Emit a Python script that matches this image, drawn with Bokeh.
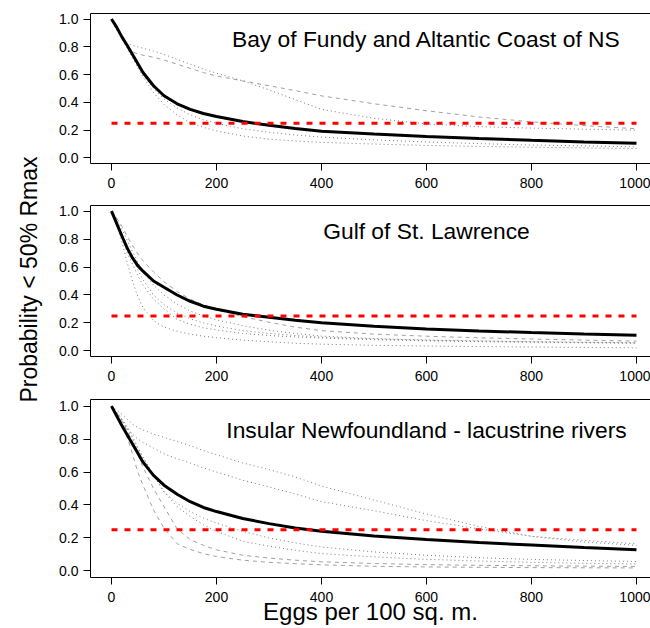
import math
from bokeh.plotting import figure
from bokeh.models import Range1d, FixedTicker, PrintfTickFormatter, LinearAxis
from bokeh.layouts import row, column
from bokeh.embed import file_html
from bokeh.resources import INLINE
from bokeh.core.properties import value

# ---------------- data ----------------
eggs = [0, 10, 20, 30, 40, 50, 60, 80, 100, 125, 150, 175, 200, 250, 300, 350, 400,
        500, 600, 700, 800, 900, 1000]
x_ticks = [0, 200, 400, 600, 800, 1000]
y_ticks = [0.0, 0.2, 0.4, 0.6, 0.8, 1.0]
threshold = 0.25

region_names = ["Bay of Fundy and Altantic Coast of NS",
                "Gulf of St. Lawrence",
                "Insular Newfoundland - lacustrine rivers"]

# Bay of Fundy and Atlantic Coast of NS
bof_overall = [1.00, 0.94, 0.87, 0.81, 0.745, 0.68, 0.615, 0.52, 0.448, 0.39, 0.35, 0.32, 0.298,
               0.262, 0.235, 0.212, 0.193, 0.172, 0.155, 0.14, 0.127, 0.115, 0.105]
bof_dashed = [
    [1.00, 0.93, 0.86, 0.80, 0.765, 0.748, 0.74, 0.725, 0.705, 0.675, 0.645, 0.615, 0.59,
     0.555, 0.52, 0.485, 0.447, 0.39, 0.34, 0.295, 0.26, 0.233, 0.21],
]
bof_dotted = [
    [1.00, 0.92, 0.86, 0.825, 0.81, 0.80, 0.79, 0.77, 0.745, 0.71, 0.675, 0.64, 0.61,
     0.555, 0.49, 0.42, 0.35, 0.285, 0.245, 0.225, 0.215, 0.207, 0.20],
    [1.00, 0.93, 0.86, 0.79, 0.72, 0.65, 0.585, 0.47, 0.385, 0.31, 0.255, 0.22, 0.195,
     0.158, 0.135, 0.122, 0.112, 0.10, 0.09, 0.083, 0.077, 0.072, 0.068],
    [1.00, 0.935, 0.865, 0.80, 0.73, 0.665, 0.60, 0.50, 0.425, 0.36, 0.31, 0.275, 0.25,
     0.21, 0.185, 0.165, 0.15, 0.13, 0.115, 0.103, 0.093, 0.087, 0.08],
]

# Gulf of St. Lawrence
gsl_overall = [1.00, 0.91, 0.82, 0.735, 0.665, 0.61, 0.57, 0.50, 0.455, 0.40, 0.355, 0.32, 0.298,
               0.262, 0.24, 0.22, 0.202, 0.176, 0.157, 0.143, 0.131, 0.121, 0.112]
gsl_dashed = [
    [1.00, 0.95, 0.89, 0.82, 0.755, 0.695, 0.645, 0.565, 0.495, 0.425, 0.37, 0.33, 0.298,
     0.245, 0.205, 0.17, 0.145, 0.12, 0.105, 0.094, 0.085, 0.077, 0.07],
]
gsl_dotted = [
    [1.00, 0.90, 0.78, 0.63, 0.50, 0.39, 0.31, 0.215, 0.17, 0.14, 0.12, 0.105, 0.095,
     0.077, 0.065, 0.055, 0.048, 0.04, 0.035, 0.031, 0.028, 0.025, 0.022],
    [1.00, 0.91, 0.82, 0.70, 0.62, 0.54, 0.47, 0.37, 0.30, 0.225, 0.19, 0.165, 0.15,
     0.125, 0.11, 0.10, 0.092, 0.08, 0.072, 0.066, 0.062, 0.058, 0.055],
    [1.00, 0.94, 0.87, 0.79, 0.71, 0.635, 0.57, 0.47, 0.40, 0.335, 0.285, 0.25, 0.222,
     0.18, 0.148, 0.124, 0.106, 0.088, 0.078, 0.072, 0.066, 0.062, 0.058],
    [1.00, 0.92, 0.84, 0.75, 0.66, 0.58, 0.51, 0.40, 0.33, 0.27, 0.23, 0.20, 0.178,
     0.145, 0.125, 0.11, 0.098, 0.085, 0.076, 0.07, 0.065, 0.06, 0.057],
]

# Insular Newfoundland - lacustrine rivers
nfl_overall = [1.00, 0.94, 0.88, 0.825, 0.77, 0.715, 0.66, 0.58, 0.52, 0.465, 0.42, 0.385, 0.36,
               0.318, 0.287, 0.26, 0.24, 0.212, 0.19, 0.172, 0.157, 0.142, 0.128]
nfl_dashed = [
    [1.00, 0.95, 0.89, 0.81, 0.71, 0.60, 0.52, 0.37, 0.26, 0.165, 0.13, 0.105, 0.087,
     0.065, 0.052, 0.044, 0.037, 0.028, 0.024, 0.022, 0.02, 0.019, 0.018],
    [1.00, 0.96, 0.91, 0.85, 0.78, 0.71, 0.63, 0.50, 0.39, 0.255, 0.19, 0.155, 0.128,
     0.095, 0.078, 0.065, 0.055, 0.045, 0.038, 0.034, 0.031, 0.029, 0.027],
]
nfl_dotted = [
    [1.00, 0.975, 0.95, 0.92, 0.89, 0.87, 0.855, 0.83, 0.81, 0.785, 0.76, 0.73, 0.705,
     0.655, 0.615, 0.57, 0.515, 0.43, 0.345, 0.27, 0.21, 0.175, 0.155],
    [1.00, 0.96, 0.92, 0.87, 0.83, 0.80, 0.78, 0.745, 0.71, 0.68, 0.655, 0.625, 0.60,
     0.55, 0.51, 0.467, 0.42, 0.365, 0.305, 0.255, 0.21, 0.185, 0.164],
    [1.00, 0.96, 0.92, 0.87, 0.815, 0.75, 0.69, 0.58, 0.48, 0.39, 0.33, 0.28, 0.24,
     0.18, 0.15, 0.125, 0.105, 0.085, 0.07, 0.06, 0.052, 0.046, 0.042],
    [1.00, 0.96, 0.91, 0.86, 0.80, 0.74, 0.69, 0.58, 0.48, 0.41, 0.36, 0.32, 0.29,
     0.24, 0.20, 0.17, 0.145, 0.115, 0.095, 0.08, 0.07, 0.063, 0.057],
]

x_title = "Eggs per 100 sq. m."
y_title = "Probability < 50% Rmax"

# ---------------- styling ----------------
FONT = "Liberation Sans"
DOT_COLOR = "#7a7a7a"
DASH_COLOR = "#a0a0a0"
PANEL_W = 602
X_END = 1026.7


def make_panel(height, top, bottom, overall, dashed, dotted, name):
    p = figure(width=PANEL_W, height=height, output_backend="svg", toolbar_location=None,
               x_range=Range1d(-40, X_END), y_range=Range1d(-0.04, 1.04),
               min_border_left=42, min_border_right=0,
               min_border_top=top, min_border_bottom=bottom)
    p.grid.visible = False
    p.outline_line_color = None
    p.background_fill_color = "white"
    p.border_fill_color = "white"

    for ax in (p.xaxis[0], p.yaxis[0]):
        ax.major_tick_out = 7
        ax.major_tick_in = 0
        ax.minor_tick_out = 0
        ax.minor_tick_in = 0
        ax.axis_line_color = "black"
        ax.major_tick_line_color = "black"
        ax.major_label_text_font = FONT
        ax.major_label_text_font_size = "14px"
        ax.major_label_text_color = "black"
    p.xaxis[0].major_label_standoff = 7
    p.yaxis[0].major_label_standoff = 5
    p.xaxis[0].ticker = FixedTicker(ticks=x_ticks)
    p.yaxis[0].ticker = FixedTicker(ticks=y_ticks)
    p.yaxis[0].formatter = PrintfTickFormatter(format="%.1f")

    top_ax = LinearAxis(ticker=FixedTicker(ticks=[]), major_tick_out=0, major_tick_in=0,
                        minor_tick_out=0, minor_tick_in=0, axis_line_color="black")
    p.add_layout(top_ax, "above")

    for ys in dashed:
        p.line(eggs, ys, line_color=DASH_COLOR, line_width=1, line_dash="4 4")
    for ys in dotted:
        p.line(eggs, ys, line_color=DOT_COLOR, line_width=1, line_dash="1 3")
    p.line(eggs, overall, line_color="black", line_width=3)
    p.line([min(eggs), max(eggs)], [threshold, threshold], line_color="red",
           line_width=3, line_dash="6 7")

    p.text(x=[600], y=[0.857], text=[name], text_font=value(FONT),
           text_font_size="22.8px", text_align="center", text_baseline="middle",
           text_color="black")
    return p


p1 = make_panel(197, 13, 34, bof_overall, bof_dashed, bof_dotted, region_names[0])
p2 = make_panel(193, 8, 34, gsl_overall, gsl_dashed, gsl_dotted, region_names[1])
p3 = make_panel(238, 9, 51, nfl_overall, nfl_dashed, nfl_dotted, region_names[2])

bottom_axis = p3.below[0]
bottom_axis.axis_label = x_title
bottom_axis.axis_label_text_font = FONT
bottom_axis.axis_label_text_font_size = "24px"
bottom_axis.axis_label_text_font_style = "normal"
bottom_axis.axis_label_text_color = "black"
bottom_axis.axis_label_standoff = -7

H_LEFT = 197 + 193 + 238
lf = figure(width=48, height=H_LEFT, output_backend="svg", toolbar_location=None,
            x_range=Range1d(0, 48), y_range=Range1d(0, H_LEFT), min_border=0,
            x_axis_type=None, y_axis_type=None)
lf.outline_line_color = None
lf.grid.visible = False
lf.text(x=[28], y=[H_LEFT - 279], text=[y_title], angle=math.pi / 2,
        text_align="center", text_baseline="middle", text_font=value(FONT),
        text_font_size="23px", text_color="black")

layout = row(lf, column(p1, p2, p3))

with open("out.html", "w") as f:
    f.write(file_html(layout, INLINE))
